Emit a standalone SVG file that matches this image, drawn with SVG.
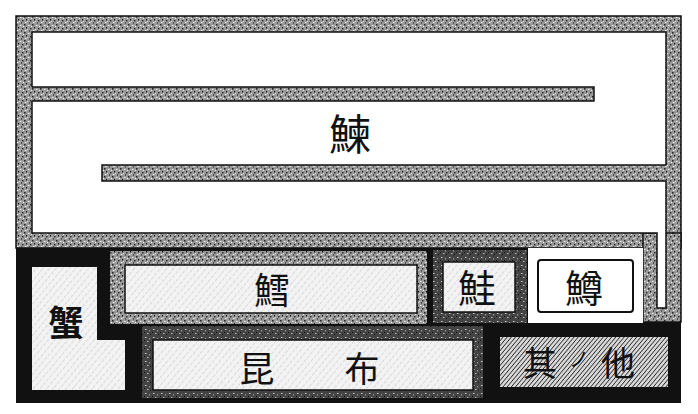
<svg xmlns="http://www.w3.org/2000/svg" width="698" height="414" viewBox="0 0 698 414">
<style>
.lbl{font-family:"Noto Sans CJK JP","Noto Sans CJK SC",sans-serif;fill:#111;text-anchor:middle;dominant-baseline:central}
.edge{stroke:#111;stroke-width:1.5}
</style>
<defs>
<pattern id="grain" width="8" height="8" patternUnits="userSpaceOnUse">
<rect width="8" height="8" fill="#999"/>
<rect x="0" y="0" width="1.5" height="1.5" fill="#222"/>
<rect x="4" y="1" width="1.5" height="1" fill="#f4f4f4"/>
<rect x="2" y="3" width="1" height="1.5" fill="#111"/>
<rect x="6" y="4" width="1.5" height="1.5" fill="#333"/>
<rect x="1" y="6" width="1.5" height="1" fill="#f0f0f0"/>
<rect x="5" y="6.5" width="1" height="1" fill="#111"/>
<rect x="7" y="2" width="1" height="1" fill="#fff"/>
<rect x="3" y="5" width="1" height="1" fill="#ddd"/>
</pattern>
<pattern id="darkgrain" width="8" height="8" patternUnits="userSpaceOnUse">
<rect width="8" height="8" fill="#444"/>
<rect x="1" y="1" width="1.5" height="1" fill="#ccc"/>
<rect x="5" y="2" width="1" height="1.5" fill="#999"/>
<rect x="3" y="5" width="1.5" height="1" fill="#bbb"/>
<rect x="6" y="6" width="1" height="1" fill="#111"/>
<rect x="0" y="4" width="1" height="1" fill="#111"/>
</pattern>
<pattern id="lighthatch" width="5" height="5" patternUnits="userSpaceOnUse" patternTransform="rotate(40)">
<rect width="5" height="5" fill="#f3f3f3"/>
<line x1="0" y1="0" x2="0" y2="5" stroke="#b0b0b0" stroke-width="0.8" stroke-dasharray="2 1.5"/>
</pattern>
<pattern id="densehatch" width="3.2" height="3.2" patternUnits="userSpaceOnUse" patternTransform="rotate(40)">
<rect width="3.2" height="3.2" fill="#d8d8d8"/>
<line x1="0" y1="0" x2="0" y2="3.2" stroke="#2a2a2a" stroke-width="1.6"/>
</pattern>
</defs>

<g id="bottom-ground">
<rect x="16" y="248" width="665" height="155" fill="#111"/>
</g>

<g id="top-frame">
<rect x="16" y="16" width="665" height="232" fill="url(#grain)" class="edge"/>
<rect x="643" y="233" width="38" height="89" fill="url(#grain)" class="edge"/>
<polygon points="32,32 666,32 666,308 657,308 657,233 32,233" fill="#fff" class="edge"/>
</g>

<g id="bar-1">
<rect x="31" y="87" width="563" height="14" fill="url(#grain)"/>
<polyline points="32,87 594,87 594,101 32,101" fill="none" class="edge"/>
</g>

<g id="bar-2">
<rect x="102" y="165" width="565" height="16" fill="url(#grain)"/>
<polyline points="666,165 102,165 102,181 666,181" fill="none" class="edge"/>
</g>

<g id="nishin">
<text x="350" y="131" class="lbl" font-size="42">鰊</text>
</g>

<g id="tara">
<rect x="110" y="251" width="317" height="73" fill="url(#grain)"/>
<rect x="125" y="265" width="292" height="48" fill="url(#lighthatch)" class="edge"/>
<text x="272" y="288" class="lbl" font-size="36">鱈</text>
</g>

<g id="sake">
<rect x="433" y="250" width="94" height="73" fill="url(#darkgrain)"/>
<rect x="443" y="262" width="72" height="50" fill="url(#lighthatch)" class="edge"/>
<text x="477" y="285" class="lbl" font-size="38">鮭</text>
</g>

<g id="masu">
<rect x="528" y="248" width="115" height="75" fill="#fff"/>
<rect x="538" y="260" width="95" height="52" rx="3" fill="#fff" stroke="#111" stroke-width="2"/>
<text x="584" y="285" class="lbl" font-size="38">鱒</text>
</g>

<g id="kani">
<polygon points="32,267 97,267 97,340 125,340 125,390 32,390" fill="url(#lighthatch)"/>
<text x="66" y="320" class="lbl" font-size="35" font-weight="bold">蟹</text>
</g>

<g id="konbu">
<rect x="142" y="326" width="341" height="72" fill="url(#darkgrain)"/>
<rect x="153" y="340" width="320" height="50" fill="url(#lighthatch)" class="edge"/>
<text x="257" y="366" class="lbl" font-size="35">昆</text>
<text x="362" y="366" class="lbl" font-size="35">布</text>
</g>

<g id="sonota">
<rect x="500" y="337" width="168" height="50" fill="url(#densehatch)"/>
<text x="540" y="361" class="lbl" font-size="34">其</text>
<text x="579" y="358" class="lbl" font-size="20">ノ</text>
<text x="618" y="361" class="lbl" font-size="34">他</text>
</g>
</svg>
